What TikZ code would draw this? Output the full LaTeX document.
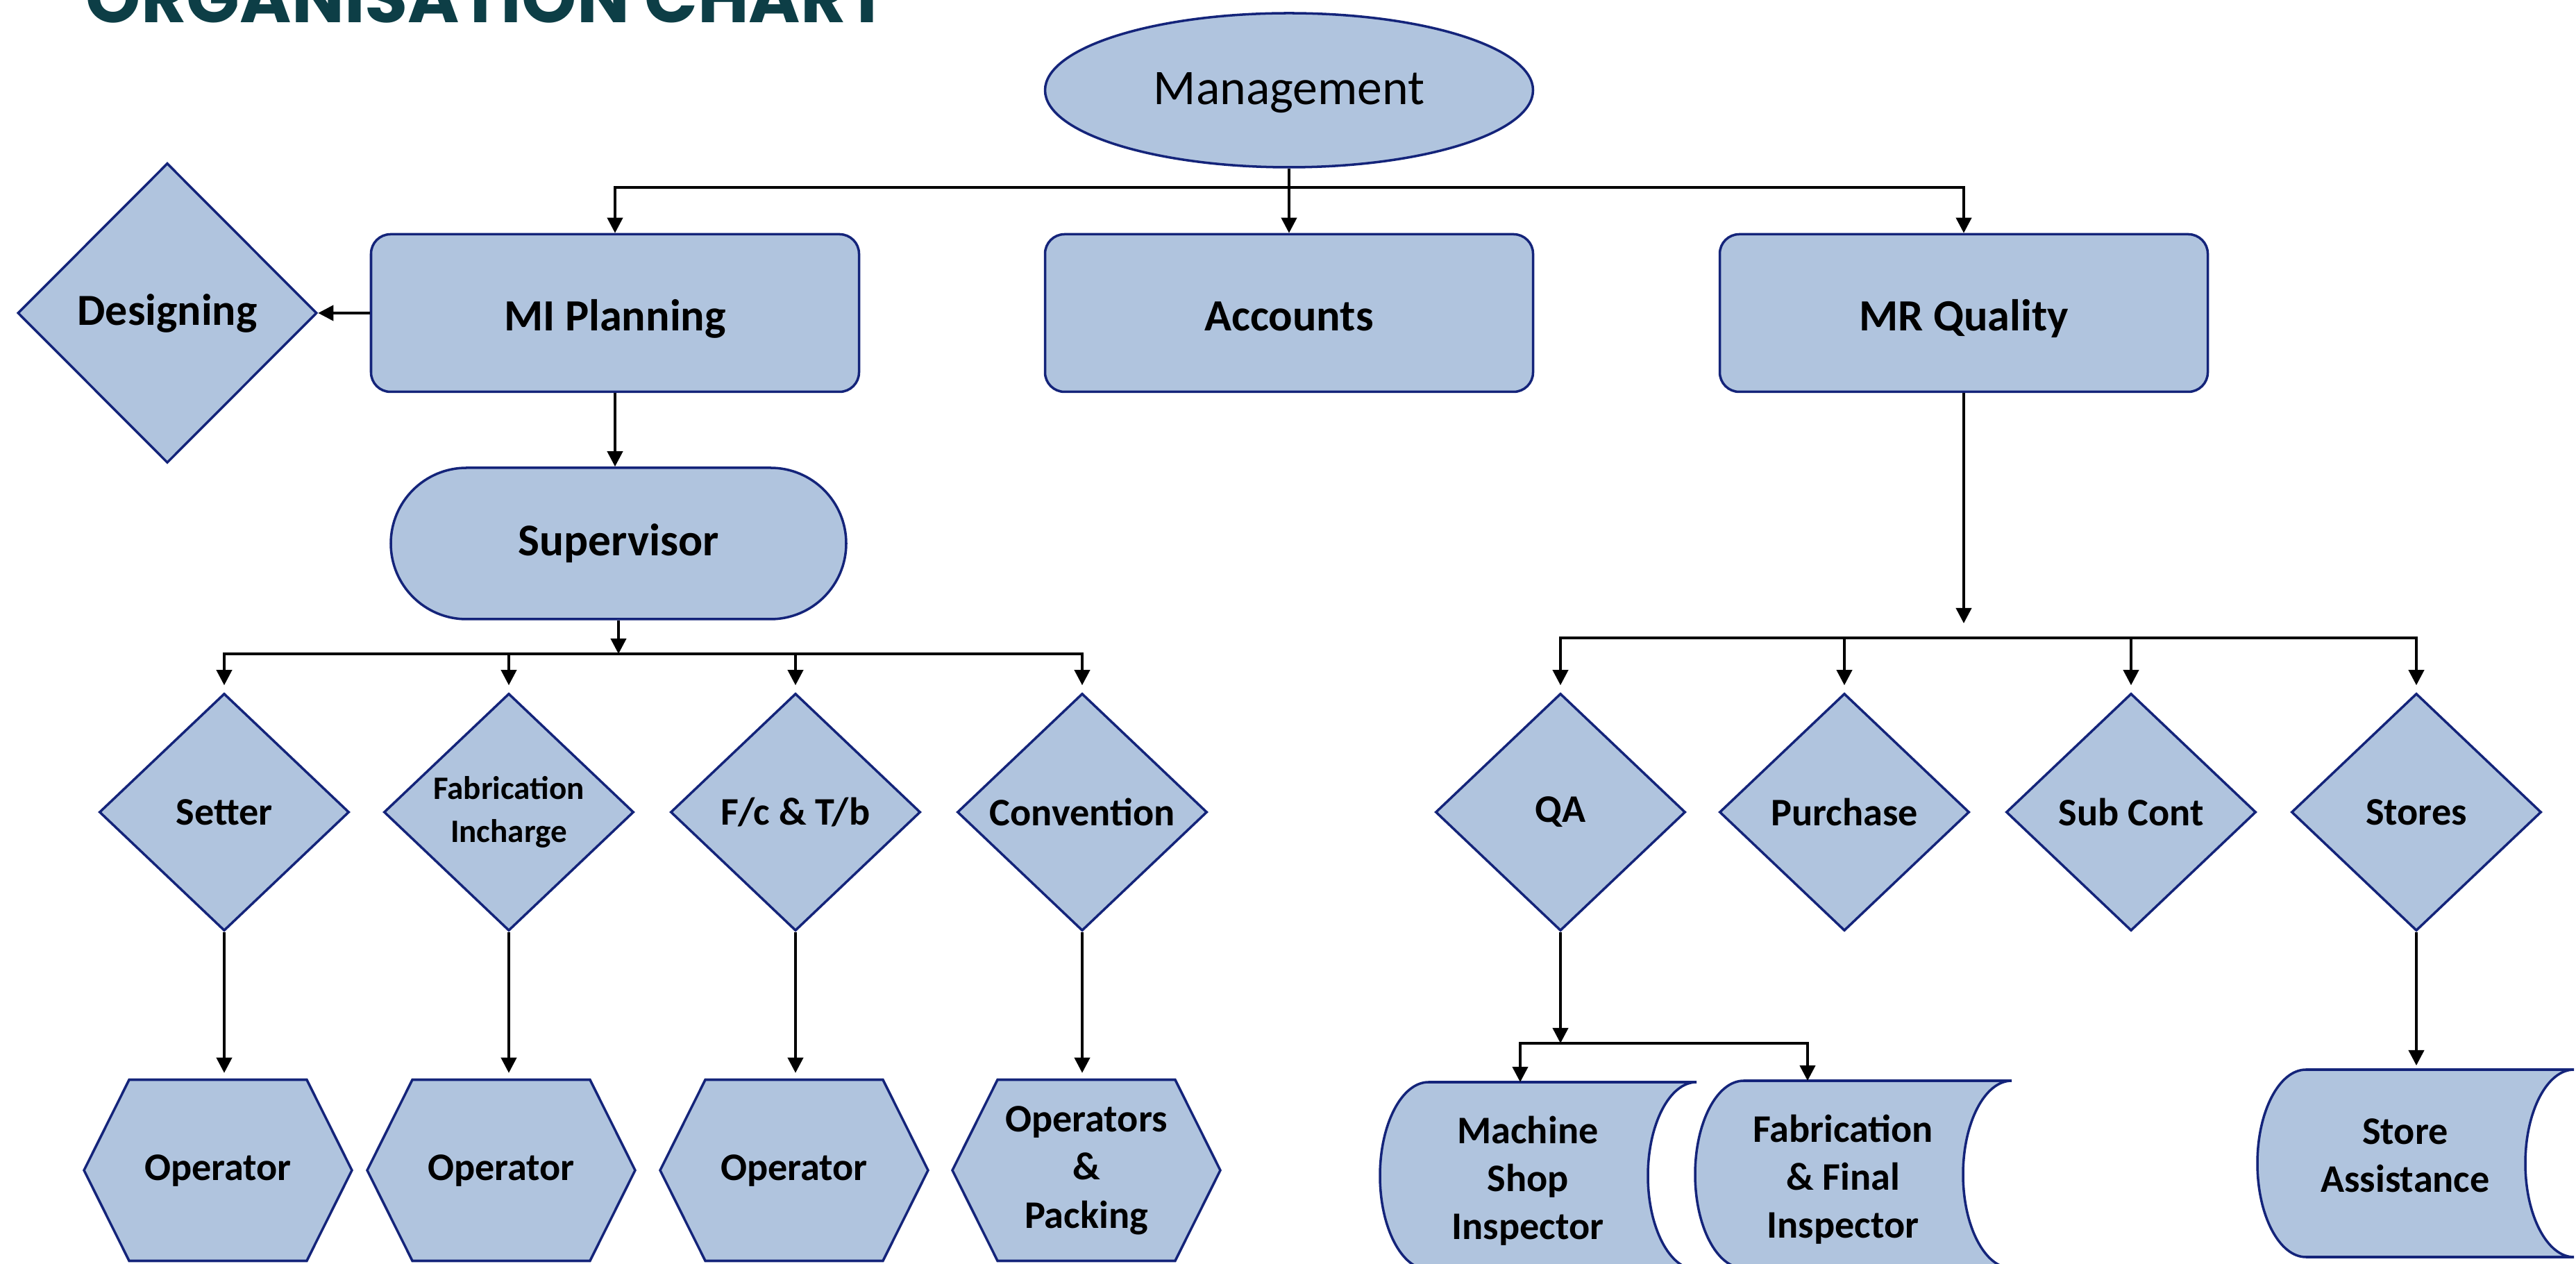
\documentclass[tikz,border=0pt]{standalone}
\usepackage{fontspec}
\setmainfont{Carlito}
\newfontfamily\titlefont{Poppins}
\usepackage{tikz}
\usetikzlibrary{arrows.meta, shapes.geometric, shapes.symbols, backgrounds}

\definecolor{boxfill}{RGB}{176,196,222}
\definecolor{boxline}{RGB}{20,36,122}
\definecolor{titleteal}{RGB}{13,62,70}

\newcommand{\storedata}[2]{%
  \draw [storeshape] ([shift={(-1.43,#2)}]#1.center) -- ([shift={(2.43,#2)}]#1.center)
    arc [start angle=90, end angle=270, x radius=0.7, y radius=1.35]
    -- ([shift={(-1.43,#2-2.7)}]#1.center)
    arc [start angle=270, end angle=90, x radius=0.7, y radius=1.35] -- cycle;}

\begin{document}
\begin{tikzpicture}
  [orgunit/.style={draw=boxline, fill=boxfill, line width=1pt, inner sep=0pt},
   topbox/.style={orgunit, ellipse, minimum width=7.03cm, minimum height=2.22cm,
     text height=16.3pt, text depth=4.5pt, font=\fontsize{20.4}{24}\selectfont},
   deptbox/.style={orgunit, rectangle, rounded corners=0.28cm, minimum width=7.03cm,
     minimum height=2.27cm, text height=18.3pt, text depth=4pt,
     font=\fontsize{18.3}{22}\selectfont\bfseries},
   leadbox/.style={orgunit, rectangle, rounded corners=1.09cm, minimum width=6.56cm,
     minimum height=2.18cm, font=\fontsize{18.6}{22}\selectfont\bfseries},
   rolediamond/.style={orgunit, diamond, align=center, minimum width=3.6cm,
     minimum height=3.42cm, font=\fontsize{16}{19.8}\selectfont\bfseries},
   crewhex/.style={orgunit, signal, signal to=east and west, signal pointer angle=127,
     align=center, minimum width=3.86cm, minimum height=2.61cm,
     font=\fontsize{16}{19.8}\selectfont\bfseries},
   storetext/.style={inner sep=0pt, align=center, font=\fontsize{16}{19.6}\selectfont\bfseries},
   storeshape/.style={draw=boxline, fill=boxfill, line width=1pt},
   arrowline/.style={line width=1.1pt, -{Triangle[length=0.22cm, width=0.22cm]}}]
  \useasboundingbox (0, 0) rectangle (37.11, 18.21);
  \clip (0, 0) rectangle (37.11, 18.21);

  \node (title) at (1.23, 17.88) [anchor=base west, inner sep=0pt, text=titleteal]
    {\resizebox{11.55cm}{!}{\titlefont\bfseries ORGANISATION CHART}};

  \node (mgmt) at (18.57, 16.91) [topbox] {Management};
  \node (mip) at (8.86, 13.70) [deptbox] {MI Planning};
  \node (acc) at (18.57, 13.70) [deptbox] {Accounts};
  \node (mrq) at (28.29, 13.70) [deptbox] {MR Quality};
  \node (des) at (2.41, 13.70) [rolediamond, minimum width=4.31cm, minimum height=4.32cm,
    font=\fontsize{18.2}{22}\selectfont\bfseries] {Designing};
  \node (sup) at (8.91, 10.38) [leadbox] {Supervisor};

  \foreach \name/\x/\label in {set/3.23/Setter, fct/11.46/{F/c \& T/b}, con/15.59/Convention,
      qa/22.48/QA, pur/26.57/Purchase, sub/30.70/Sub Cont, sto/34.81/Stores}{
    \node (\name) at (\x, 6.51) [rolediamond] {\label};
  }
  \node (fab) at (7.33, 6.51) [rolediamond, font=\fontsize{13.4}{17.5}\selectfont\bfseries]
    {Fabrication\\Incharge};
  \foreach \name/\x/\label in {op1/3.14/Operator, op2/7.22/Operator, op3/11.44/Operator,
      op4/15.65/{Operators\\\&\\Packing}}{
    \node (\name) at (\x, 1.35) [crewhex] {\label};
  }

  \node (msi) at (22.01, 1.20) [storetext] {Machine\\Shop\\Inspector};
  \node (ffi) at (26.55, 1.22) [storetext] {Fabrication\\\& Final\\Inspector};
  \node (sta) at (34.65, 1.56) [storetext] {Store\\Assistance};
  \begin{scope}[on background layer]
    \storedata{msi}{1.42}
    \storedata{ffi}{1.42}
    \storedata{sta}{1.24}
  \end{scope}

  \coordinate (mbar) at (18.57, 15.51);
  \coordinate (sbar) at (8.91, 8.79);
  \coordinate (rend) at (28.29, 9.23);
  \coordinate (rbar) at (28.29, 9.02);
  \coordinate (qbar) at (22.48, 3.18);
  \coordinate (msitop) at (21.90, 2.62);
  \coordinate (ffitop) at (26.04, 2.64);
  \coordinate (statop) at (34.81, 2.80);

  \draw [arrowline] (mgmt) to (acc);
  \draw [arrowline] (mbar) -| (mip);
  \draw [arrowline] (mbar) -| (mrq);
  \draw [arrowline] (mip) to (des);
  \draw [arrowline] (mip) to (mip |- sup.north);
  \draw [arrowline] (sup) to (sbar);
  \foreach \n in {set, fab, fct, con}
    \draw [arrowline, shorten >=0.1cm] (sbar) -| (\n);
  \foreach \d/\h in {set/op1, fab/op2, fct/op3, con/op4}
    \draw [arrowline, shorten >=0.08cm] (\d) to (\d |- \h.north);
  \draw [arrowline] (mrq) to (rend);
  \foreach \n in {qa, pur, sub, sto}
    \draw [arrowline, shorten >=0.1cm] (rbar) -| (\n);
  \draw [arrowline] (qa) to (qbar);
  \draw [arrowline] (qbar) -| (msitop);
  \draw [arrowline] (qbar) -| (ffitop);
  \draw [arrowline, shorten >=0.06cm] (sto) to (statop);
\end{tikzpicture}
\end{document}
